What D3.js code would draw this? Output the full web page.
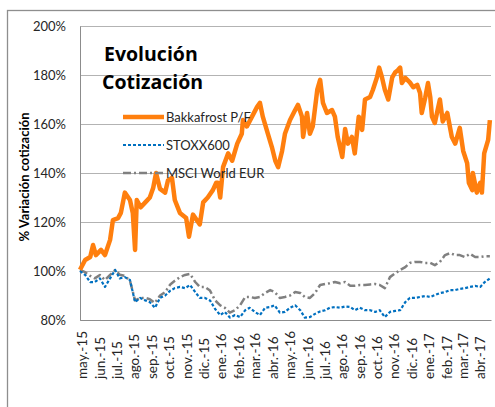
<!DOCTYPE html>
<html>
<head>
<meta charset="utf-8">
<script src="https://cdn.jsdelivr.net/npm/d3@7"></script>
<style>
  body { margin: 0; background: #fff; }
  text { font-family: Lato, "Open Sans", sans-serif; }
</style>
</head>
<body>
<svg id="grafico" width="495" height="407"></svg>
<script>
// etiquetas de meses del eje x
var etiquetasMeses = ['may.-15','jun.-15','jul.-15','ago.-15','sep.-15','oct.-15','nov.-15','dic.-15',
  'ene.-16','feb.-16','mar.-16','abr.-16','may.-16','jun.-16','jul.-16','ago.-16','sep.-16','oct.-16',
  'nov.-16','dic.-16','ene.-17','feb.-17','mar.-17','abr.-17'];
var ticksY = [80, 100, 120, 140, 160, 180, 200];

// Bakkafrost: dias desde 1-may-2015 y valor (%)
var bakkaDias = [0,9,18,23,28,37,44,53,58,67,72,79,88,93,97,100,107,115,123,129,134,141,150,155,162,167,
  176,187,192,199,211,217,225,234,240,243,247,252,261,268,277,285,287,294,303,312,317,322,331,338,344,349,
  356,361,370,379,384,391,393,400,405,410,418,423,428,435,444,449,454,462,467,472,479,484,491,497,502,511,
  516,523,527,532,537,543,550,555,560,564,567,573,581,587,594,599,602,608,613,617,620,625,634,639,647,655,
  661,669,675,682,685,691,692,699,705,708,712,719,722];
var bakkaValores = [100.5,104.5,105.7,110.6,106.5,108.6,106.5,112.7,120.8,121.6,123.7,132,129,123.7,108.6,129,
  126,128,130,134,140,133.5,132,137,138,129,123.7,121.6,114,123,119,128,130,133,136,136,130,142.4,148,145,
  152,156,161.6,159,163,167,168.6,163,156,150.6,145,142.4,149,156,161.6,165.7,167.8,163,154.7,164.5,156,159,
  174,178,168.6,164.5,165.7,163,154.7,146.5,158,152,154.7,148,163,157.6,170,171,174,179,183,179,174,170,179,
  181,182,183,176.7,178.8,177,175,176,172.7,164.5,170.6,176.7,171,163,160.4,170,161,164.5,154.7,152,158.4,
  149,144,136,133,140,132,136,132,148,153.5,161.6];

// STOXX600 y MSCI World EUR comparten dias
var indicesDias = [0,9,18,26,35,44,53,62,70,79,88,97,106,115,123,132,141,150,159,167,176,185,194,203,211,
  220,229,238,247,255,264,273,282,291,299,308,317,326,335,343,352,361,370,379,388,396,405,414,423,432,440,
  449,458,467,476,484,493,502,511,520,528,537,546,555,564,573,581,590,599,608,617,625,634,643,652,661,669,
  678,687,696,705,713,722];
var stoxxValores = [100,98.4,95.5,95.5,97,93.5,97,100.4,97,97.5,96.3,87.3,89,88,87.3,85,89,90,92,93,93.5,93,
  94.3,91.4,89,89,88,84.5,82,83.3,81,82,81.2,84,85,83.3,82,85,85.3,86,83,83.3,85,86,84,81,81.2,82.5,83.5,84,
  85,85.3,85,85.5,85.3,84,85,84,84,83.3,84,81.2,83.3,83.7,84,87.3,89,89,89.4,89.8,89.4,90.2,91,91.4,92.2,
  92.2,92.7,93,93.5,93.9,93.5,95.5,97];
var msciValores = [100.4,99.5,98,97,98.4,96.3,98.4,100.4,98.5,98,96,88,89,89,88.5,87,90,91.4,94.5,96,97.5,
  98.4,98.8,95.5,93.5,93.5,92,88,86,85,83,84,86,89.4,89.4,89,89.4,91,92.2,91.4,89,89.4,90,91.4,91,89.4,89,
  91,94.3,94.7,95,95.5,95,95.5,94,94,94.3,94.3,94.5,94.7,94.3,93,97.5,99,100.4,101.6,103.3,103.7,103.7,103.3,
  103.3,102.4,103.7,106.5,107.3,106.5,106.5,105.7,107,105.7,105.7,106,106];

var series = [
  {nombre: 'Bakkafrost P/F', dias: bakkaDias, valores: bakkaValores, color: '#FF7F0E', ancho: 4.5, trazo: null},
  {nombre: 'STOXX600', dias: indicesDias, valores: stoxxValores, color: '#0070C0', ancho: 2.2, trazo: '3,2'},
  {nombre: 'MSCI World EUR', dias: indicesDias, valores: msciValores, color: '#808080', ancho: 2.5, trazo: '8,3,2,3'}
];

var inicio = new Date(2015, 4, 1);
var margin = {top: 26, right: 4, bottom: 87, left: 80},
  width = 495 - margin.left - margin.right,
  height = 407 - margin.top - margin.bottom;

var x = d3.scaleTime()
  .domain([inicio, new Date(2017, 3, 24)])
  .range([0, width]);
var y = d3.scaleLinear()
  .domain([80, 200])
  .range([height, 0]);

var svg = d3.select('#grafico');

// borde exterior
svg.append('rect')
  .attr('x', 7.5).attr('y', 10.5)
  .attr('width', 520).attr('height', 420)
  .attr('fill', 'none')
  .attr('stroke', '#8e8e8e')
  .attr('stroke-width', 1.3);

var container = svg.append('g')
  .attr('transform', 'translate(' + margin.left + ',' + margin.top + ')');

// lineas de cuadricula
container.selectAll('.grid')
  .data(ticksY)
  .enter().append('line')
  .attr('class', 'grid')
  .attr('x1', 0).attr('x2', width)
  .attr('y1', function(d) { return Math.round(y(d)) + 0.5; })
  .attr('y2', function(d) { return Math.round(y(d)) + 0.5; })
  .attr('stroke', '#b3b3b3')
  .attr('stroke-width', 1);

var meses = etiquetasMeses.map(function(d, i) { return d3.timeMonth.offset(inicio, i); });

var xAxis = d3.axisBottom(x)
  .tickValues(meses)
  .tickSize(0)
  .tickFormat(function(d, i) { return etiquetasMeses[i]; });

var gx = container.append('g')
  .attr('class', 'x axis')
  .attr('transform', 'translate(0,' + height + ')')
  .call(xAxis);
gx.select('.domain').attr('stroke', '#8c8c8c');
gx.selectAll('.tick text')
  .attr('transform', 'rotate(-90)')
  .attr('text-anchor', 'start')
  .attr('x', -59)
  .attr('y', 0)
  .attr('dy', '0.5em')
  .attr('fill', '#262626')
  .style('font-size', '13.5px');

var yAxis = d3.axisLeft(y)
  .tickValues(ticksY)
  .tickSize(0)
  .tickPadding(14)
  .tickFormat(function(d) { return d + '%'; });

var gy = container.append('g')
  .attr('class', 'y axis')
  .call(yAxis);
gy.select('.domain').attr('stroke', '#8c8c8c');
gy.selectAll('.tick text')
  .attr('fill', '#262626')
  .style('font-size', '13px');

// titulo del eje y
svg.append('text')
  .attr('transform', 'translate(29,177) rotate(-90)')
  .attr('text-anchor', 'middle')
  .style('font-size', '13px')
  .style('font-weight', 'bold')
  .attr('fill', '#000')
  .text('% Variación cotización');

// lineas de las series
var linea = d3.line()
  .x(function(d) { return x(d3.timeDay.offset(inicio, d[0])); })
  .y(function(d) { return y(d[1]); });

series.slice().reverse().forEach(function(s) {
  container.append('path')
    .datum(s.dias.map(function(d, i) { return [d, s.valores[i]]; }))
    .attr('fill', 'none')
    .attr('stroke', s.color)
    .attr('stroke-width', s.ancho)
    .attr('stroke-dasharray', s.trazo)
    .attr('stroke-linejoin', 'round')
    .attr('d', linea);
});

// titulo
svg.selectAll('.titulo')
  .data(['Evolución', 'Cotización'])
  .enter().append('text')
  .attr('class', 'titulo')
  .attr('x', function(d, i) { return i ? 102 : 104; })
  .attr('y', function(d, i) { return 61 + i * 28; })
  .style('font-family', '"Open Sans", sans-serif')
  .style('font-size', '19.5px')
  .style('font-weight', 'bold')
  .text(function(d) { return d; });

// leyenda
var leyenda = svg.selectAll('.leyenda')
  .data(series)
  .enter().append('g')
  .attr('class', 'leyenda')
  .attr('transform', function(d, i) { return 'translate(123,' + (117 + i * 28) + ')'; });
leyenda.append('line')
  .attr('x1', 0).attr('x2', 41)
  .attr('stroke', function(d) { return d.color; })
  .attr('stroke-width', function(d) { return d.ancho; })
  .attr('stroke-dasharray', function(d) { return d.trazo; });
leyenda.append('text')
  .attr('x', 43)
  .attr('dy', '0.35em')
  .style('font-size', '13px')
  .attr('fill', '#262626')
  .text(function(d) { return d.nombre; });
</script>
</body>
</html>
